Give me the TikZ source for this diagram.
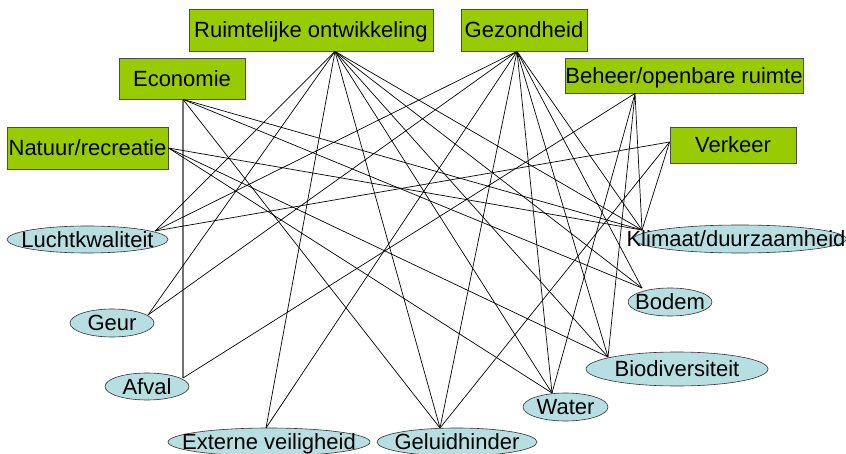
\documentclass[tikz,border=0pt]{standalone}
\usepackage{fontspec}
\setmainfont{Liberation Sans}
\usetikzlibrary{shapes.geometric,calc}
\definecolor{boxgreen}{RGB}{153,204,0}
\definecolor{ellblue}{RGB}{183,222,225}
\begin{document}
\begin{tikzpicture}[x=1pt,y=-1pt,
  txt/.style={font=\fontsize{22}{26}\selectfont, text height=15.75pt, text depth=0pt, inner sep=0pt},
  topic/.style={txt, draw=black!70, fill=boxgreen, line width=0.8pt},
  aspect/.style={ellipse, draw=black!80, fill=ellblue, line width=0.6pt, inner sep=0pt},
  lbl/.style={label={[txt]center:#1}},
  link/.style={line width=0.7pt, black},
  glink/.style={line width=1.1pt, black!55}]
\useasboundingbox (0,0) rectangle (846,454);
% topics
\node[topic, minimum width=244pt, minimum height=42pt] (R) at (311,30) {Ruimtelijke ontwikkeling};
\node[topic, minimum width=126pt, minimum height=42pt] (G) at (524,30) {Gezondheid};
\node[topic, minimum width=126pt, minimum height=41pt] (E) at (182,78.5) {Economie};
\node[topic, minimum width=161pt, minimum height=42pt] (N) at (87.5,148) {Natuur/recreatie};
\node[topic, minimum width=238pt, minimum height=35pt] (B) at (684,75.5) {Beheer/openbare ruimte};
\node[topic, minimum width=126pt, minimum height=36pt] (V) at (733,145) {Verkeer};
% aspects
\node[aspect, minimum width=161pt, minimum height=27pt, lbl=Luchtkwaliteit] (lu) at (87.5,239.5) {};
\node[aspect, minimum width=84pt, minimum height=28pt, lbl=Geur] (ge) at (112,323) {};
\node[aspect, minimum width=84pt, minimum height=27pt, lbl=Afval] (af) at (147,386.5) {};
\node[aspect, minimum width=202pt, minimum height=28pt, lbl=Externe veiligheid] (ex) at (269,442) {};
\node[aspect, minimum width=160pt, minimum height=28pt, lbl=Geluidhinder] (gh) at (457,442) {};
\node[aspect, minimum width=85pt, minimum height=28pt, lbl=Water] (wa) at (565.5,407) {};
\node[aspect, minimum width=182pt, minimum height=34pt, lbl=Biodiversiteit] (bi) at (677,369) {};
\node[aspect, minimum width=84pt, minimum height=28pt, lbl=Bodem] (bo) at (670,302) {};
\node[aspect, minimum width=213pt, minimum height=28pt, label={[txt,xshift=-4pt]center:Klimaat/duurzaamheid}] (kl) at (740,239) {};
% connection points
\coordinate (Ra) at ($(R.south)+(24,0)$);
\coordinate (Ga) at ($(G.south)+(-7,0)$);
\coordinate (Ea) at ($(E.south)+(1,0)$);
\coordinate (Na) at (N.east);
\coordinate (Ba) at ($(B.south)+(-49,0)$);
\coordinate (Va) at ($(V.west)+(0,-3)$);
\coordinate (lua) at ($(lu.center)+(67.5,-8.5)$);
\coordinate (gea) at ($(ge.center)+(36,-8)$);
\coordinate (afa) at ($(af.center)+(36,-8.5)$);
\coordinate (exa) at ($(ex.center)+(-3,-14)$);
\coordinate (gha) at ($(gh.center)+(-17,-14)$);
\coordinate (waa) at ($(wa.center)+(-13.5,-14)$);
\coordinate (bia) at ($(bi.center)+(-69,-12)$);
\coordinate (boa) at ($(bo.center)+(-28,-14)$);
\coordinate (kla) at ($(kl.center)+(-98,-9)$);
% connectors
\draw[glink] (Ea) -- (afa);
\foreach \t in {lua,gea,exa,gha,waa,bia,boa,kla} {\draw[link] (Ra) -- (\t); \draw[link] (Ga) -- (\t);}
\foreach \t in {kla,boa,gha} \draw[link] (Ea) -- (\t);
\foreach \t in {kla,bia,waa} \draw[link] (Na) -- (\t);
\foreach \t in {afa,waa,bia,kla} \draw[link] (Ba) -- (\t);
\foreach \t in {lua,gha,kla} \draw[link] (Va) -- (\t);
\end{tikzpicture}
\end{document}
